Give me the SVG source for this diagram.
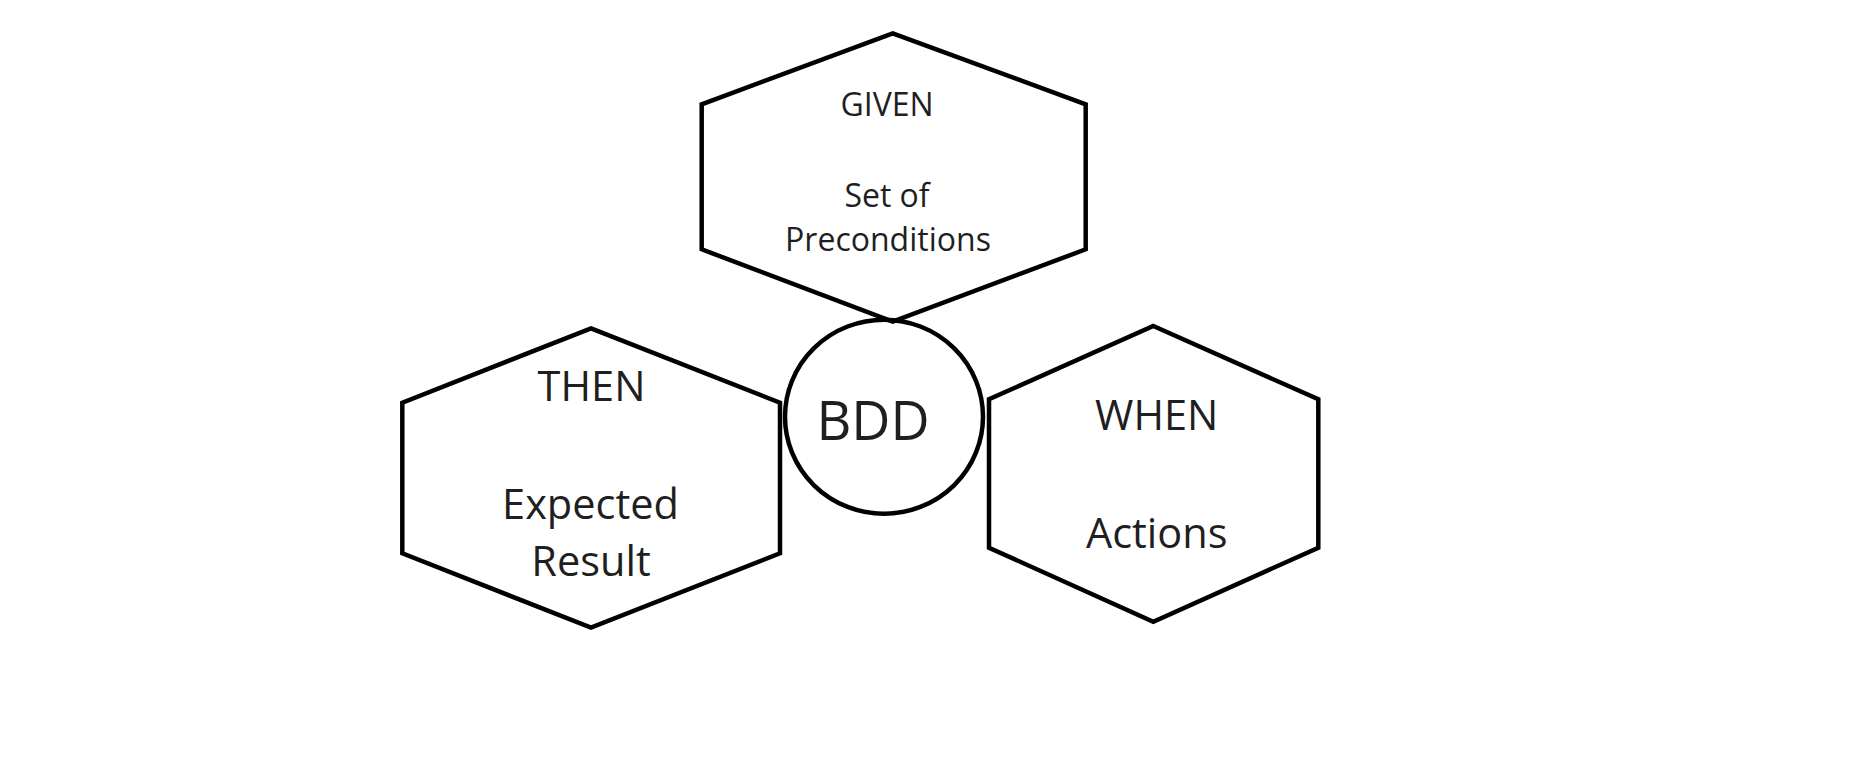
<svg xmlns="http://www.w3.org/2000/svg" width="1862" height="758" viewBox="0 0 1862 758">
<style>
.shape{fill:none;stroke:#000;stroke-width:4.5;stroke-linejoin:miter}
.t{font-family:"Open Sans","Liberation Sans",sans-serif;fill:#1f1f1f;text-anchor:middle}
.s{font-size:32px}
.m{font-size:41.5px}
.l{font-size:54px}
</style>
<rect width="1862" height="758" fill="#fff"/>
<g id="connectors"/>
<g id="given">
<polygon class="shape" points="892.7,33.3 1085.7,104.3 1085.7,249.3 892.7,321.7 701.7,249.3 701.7,104.3"/>
<text class="t s" x="887" y="115.7">GIVEN</text>
<text class="t s" x="887" y="206.7">Set of</text>
<text class="t s" x="888" y="250.7">Preconditions</text>
</g>
<g id="then">
<polygon class="shape" points="591,328.3 780,402.7 780,553.3 591,627.7 402.3,553.3 402.3,402.7"/>
<text class="t m" x="591.5" y="400.7">THEN</text>
<text class="t m" x="590.5" y="519">Expected</text>
<text class="t m" x="591" y="575.7">Result</text>
</g>
<g id="when">
<polygon class="shape" points="1153.3,326 1318.3,399.3 1318.3,547.7 1153.3,621.7 989,547.7 989,399.3"/>
<text class="t m" x="1156.7" y="430">WHEN</text>
<text class="t m" x="1156.7" y="548.3">Actions</text>
</g>
<g id="bdd">
<ellipse class="shape" cx="884" cy="416.7" rx="99" ry="97" stroke-width="4"/>
<text class="t l" x="873" y="440">BDD</text>
</g>
</svg>
